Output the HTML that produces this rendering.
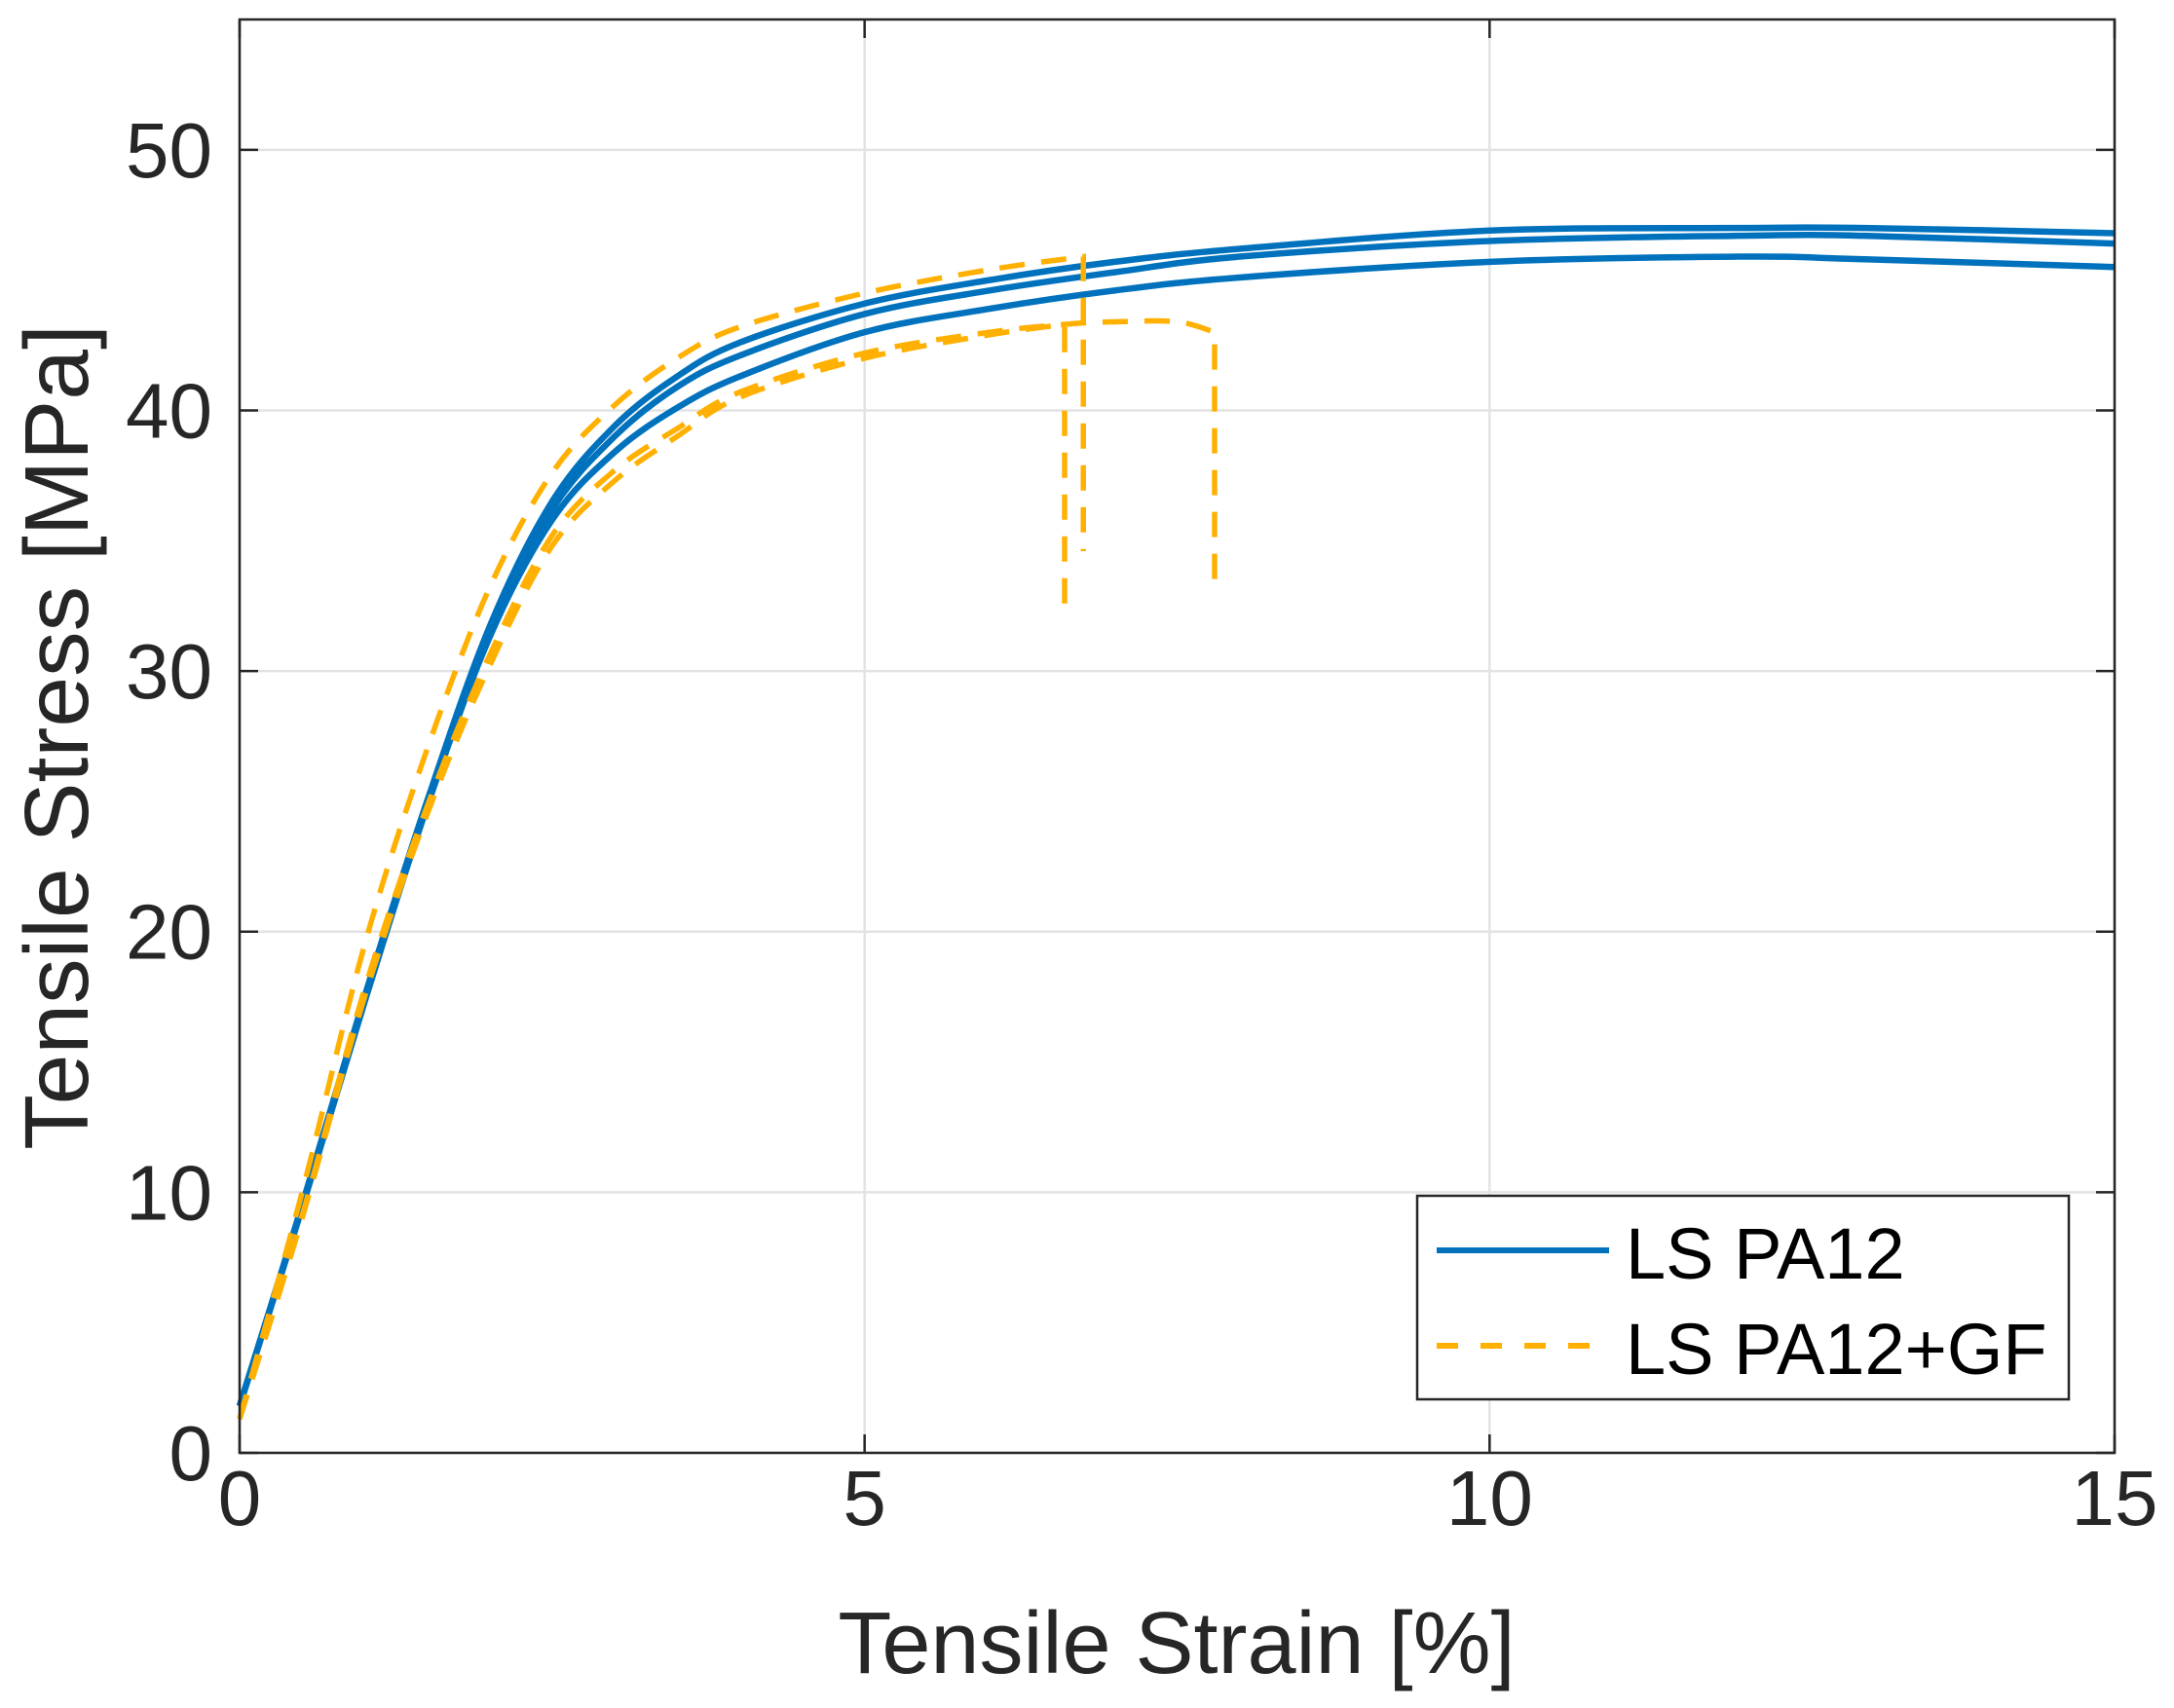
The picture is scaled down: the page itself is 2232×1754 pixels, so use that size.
<!DOCTYPE html>
<html><head><meta charset="utf-8"><style>html,body{margin:0;padding:0;background:#fff}svg{display:block}</style></head>
<body>
<svg id="chart" width="2232" height="1754" viewBox="0 0 2232 1754" xmlns="http://www.w3.org/2000/svg" font-family="Liberation Sans, Arial, sans-serif">
<rect width="2232" height="1754" fill="#fff"/>
<g id="grid"></g>
<g id="series"></g>
<g id="axes"></g>
<text x="1208" y="1718" font-size="90" text-anchor="middle" fill="#262626">Tensile Strain [%]</text>
<text transform="translate(90,757) rotate(-90)" font-size="93" text-anchor="middle" fill="#262626">Tensile Stress [MPa]</text>
<g>
<rect x="1455" y="1228" width="669" height="209" fill="#fff" stroke="#262626" stroke-width="2.5"/>
<line x1="1475" y1="1284" x2="1652" y2="1284" stroke="#0072BD" stroke-width="6"/>
<text x="1669" y="1313" font-size="74" fill="#000">LS PA12</text>
<line x1="1475" y1="1382" x2="1652" y2="1382" stroke="#FFB000" stroke-width="6" stroke-dasharray="22,23"/>
<text x="1669" y="1411" font-size="74" fill="#000">LS PA12+GF</text>
</g>
</svg>
<script>
const xTicks = [0, 5, 10, 15];
const yTicks = [0, 10, 20, 30, 40, 50];
const pa12X = [0, 0.5, 1, 1.5, 2, 2.5, 3, 3.5, 4, 5, 6, 7, 8, 10, 12, 13, 15];
const pa12Top = [1.8, 9.5, 17.5, 25, 31.7, 36.5, 39.4, 41.3, 42.6, 44.1, 45.0, 45.7, 46.2, 46.9, 47.0, 47.0, 46.8];
const pa12Mid = [1.8, 9.5, 17.5, 25, 31.5, 36.2, 39.0, 40.9, 42.1, 43.7, 44.6, 45.3, 45.9, 46.5, 46.7, 46.7, 46.4];
const pa12Low = [1.8, 9.4, 17.3, 24.8, 31.3, 35.8, 38.4, 40.1, 41.3, 43.0, 43.9, 44.6, 45.1, 45.7, 45.9, 45.8, 45.5];
const gfAX = [0, 0.5, 1, 1.5, 2, 2.5, 3, 3.5, 4, 5, 6, 6.75];
const gfAY = [1.3, 10, 19.5, 27, 33.2, 37.6, 40.2, 42, 43.2, 44.5, 45.4, 45.9];
const gfADrop = 34.6;
const gfBX = [0, 0.5, 1, 1.5, 2, 2.5, 3, 3.5, 4, 5, 6, 6.6];
const gfBY = [1.3, 9, 17.5, 24.5, 30.2, 34.8, 37.3, 39.0, 40.5, 42.0, 42.9, 43.3];
const gfBDrop = 32.3;
const gfCX = [0, 0.5, 1, 1.5, 2, 2.5, 3, 3.5, 4, 5, 6, 6.6, 7, 7.5, 7.8];
const gfCY = [1.3, 9.1, 17.8, 24.8, 30.6, 35.2, 37.7, 39.3, 40.7, 42.2, 43.0, 43.3, 43.4, 43.4, 43.0];
const gfCDrop = 33.5;

const L = 246, R = 2171, T = 20, B = 1492, XMAX = 15, YMAX = 55;
const sx = v => L + v / XMAX * (R - L);
const sy = v => B - v / YMAX * (B - T);
const NS = 'http://www.w3.org/2000/svg';
function mk(tag, attrs, parent) {
  const e = document.createElementNS(NS, tag);
  for (const k in attrs) e.setAttribute(k, attrs[k]);
  parent.appendChild(e);
  return e;
}
function smoothPath(xs, ys) {
  const p = xs.map((x, i) => [sx(x), sy(ys[i])]);
  let d = 'M' + p[0][0] + ',' + p[0][1];
  for (let i = 0; i < p.length - 1; i++) {
    const p0 = p[Math.max(0, i - 1)], p1 = p[i], p2 = p[i + 1], p3 = p[Math.min(p.length - 1, i + 2)];
    const c1x = p1[0] + (p2[0] - p0[0]) / 6, c1y = p1[1] + (p2[1] - p0[1]) / 6;
    const c2x = p2[0] - (p3[0] - p1[0]) / 6, c2y = p2[1] - (p3[1] - p1[1]) / 6;
    d += ' C' + c1x + ',' + c1y + ' ' + c2x + ',' + c2y + ' ' + p2[0] + ',' + p2[1];
  }
  return d;
}
const grid = document.getElementById('grid');
const axes = document.getElementById('axes');
const series = document.getElementById('series');
xTicks.forEach(t => {
  const g = mk('line', {x1: sx(t), x2: sx(t), y1: T, y2: B, stroke: '#e3e3e3', 'stroke-width': 2.5}, grid);
  
  
  const tk = mk('path', {d: 'M' + sx(t) + ',' + B + 'V' + (B - 19) + 'M' + sx(t) + ',' + T + 'V' + (T + 19), stroke: '#262626', 'stroke-width': 2.5}, axes);
  
  
  const lb = mk('text', {x: sx(t), y: 1566, 'font-size': 80, 'text-anchor': 'middle', fill: '#262626'}, axes);
  
  
  lb.textContent = t;
});
yTicks.forEach(t => {
  const g = mk('line', {x1: L, x2: R, y1: sy(t), y2: sy(t), stroke: '#e3e3e3', 'stroke-width': 2.5}, grid);
  
  
  const tk = mk('path', {d: 'M' + L + ',' + sy(t) + 'H' + (L + 19) + 'M' + R + ',' + sy(t) + 'H' + (R - 19), stroke: '#262626', 'stroke-width': 2.5}, axes);
  
  
  const lb = mk('text', {x: 218, y: sy(t) + 28, 'font-size': 80, 'text-anchor': 'end', fill: '#262626'}, axes);
  
  
  lb.textContent = t;
});
const frame = mk('rect', {x: L, y: T, width: R - L, height: B - T, fill: 'none', stroke: '#262626', 'stroke-width': 2.5}, axes);



[[pa12Top, 'pa12-curve-1'], [pa12Mid, 'pa12-curve-2'], [pa12Low, 'pa12-curve-3']].forEach(([ys, nm]) => {
  const p = mk('path', {d: smoothPath(pa12X, ys), fill: 'none', stroke: '#0072BD', 'stroke-width': 6.5}, series);
  
  
});
[[gfAX, gfAY, gfADrop, 'pa12-gf-curve-1'], [gfBX, gfBY, gfBDrop, 'pa12-gf-curve-2'], [gfCX, gfCY, gfCDrop, 'pa12-gf-curve-3']].forEach(([xs, ys, drop, nm]) => {
  const last = xs[xs.length - 1];
  const d = smoothPath(xs, ys) + ' L' + sx(last) + ',' + sy(drop);
  const p = mk('path', {d: d, fill: 'none', stroke: '#FFB000', 'stroke-width': 5.5, 'stroke-dasharray': '26,17'}, series);
  
  
});
</script>
</body></html>
